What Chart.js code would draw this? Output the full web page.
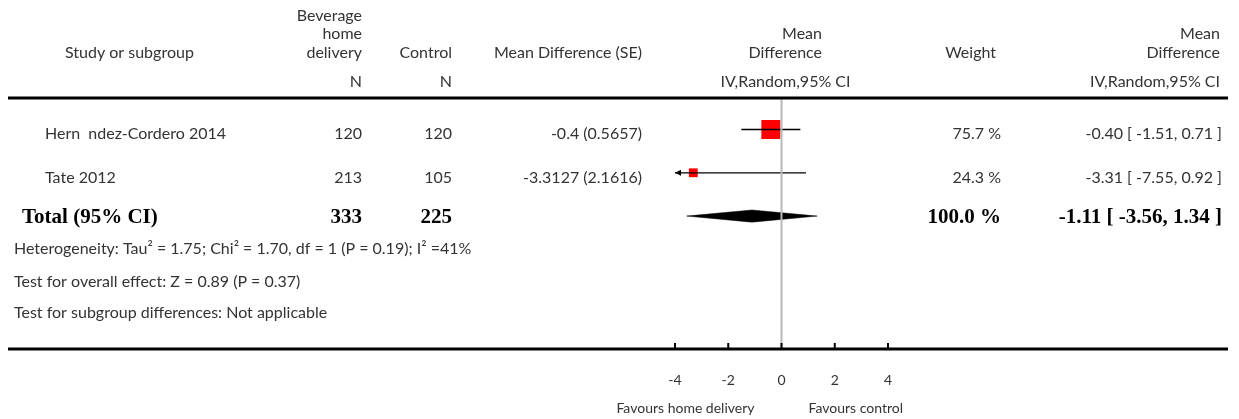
<!DOCTYPE html>
<html>
<head>
<meta charset="utf-8">
<script src="https://cdn.jsdelivr.net/npm/chart.js@4"></script>
<style>
  html, body { margin: 0; padding: 0; background: #fff; }
  #forest { display: block; }
</style>
</head>
<body>
<canvas id="forest" width="1239" height="419"></canvas>
<script>
// study level data
const studyNames = ["Hern  ndez-Cordero 2014", "Tate 2012"];
const nDelivery = [120, 213];
const nControl = [120, 105];
const meanDiff = [-0.4, -3.3127];
const stdErr = [0.5657, 2.1616];
const weights = [75.7, 24.3];
const ciLow = [-1.51, -7.55];
const ciHigh = [0.71, 0.92];

// pooled result
const totalN = [333, 225];
const pooledMD = [-1.11];
const pooledLow = [-3.56];
const pooledHigh = [1.34];
const pooledWeight = [100.0];

const xTicks = [-4, -2, 0, 2, 4];
const xMin = -4;
const xMax = 4;

const heterogeneity = "Heterogeneity: Tau\u00B2 = 1.75; Chi\u00B2 = 1.70, df = 1 (P = 0.19); I\u00B2 =41%";
const overallEffect = "Test for overall effect: Z = 0.89 (P = 0.37)";
const subgroupDiff = "Test for subgroup differences: Not applicable";

const SANS = "Lato, 'Open Sans', sans-serif";
const SERIF = "'Liberation Serif', 'DejaVu Serif', serif";
const TEXT = "#333";

function fmt(v) {
  return v.toFixed(2);
}

function ciText(m, lo, hi) {
  return fmt(m) + " [ " + fmt(lo) + ", " + fmt(hi) + " ]";
}

function squareRadius(w) {
  // side in px grows with weight, rect radius = side / sqrt(2)
  const side = 4 + 15 * w / 75.7;
  return side / Math.SQRT2;
}

const totalRow = studyNames.length;
const diamondHalf = 0.14;

function returnDatasets() {
  const sets = [];
  studyNames.forEach(function (name, i) {
    sets.push({
      type: "line",
      data: [{ x: ciLow[i], y: i }, { x: ciHigh[i], y: i }],
      borderColor: "#000",
      borderWidth: 1.3,
      pointRadius: 0,
      showLine: true,
    });
  });
  sets.push({
    data: meanDiff.map(function (m, i) { return { x: m, y: i }; }),
    pointStyle: "rect",
    pointRadius: weights.map(squareRadius),
    backgroundColor: "#ff0000",
    borderWidth: 0,
  });
  sets.push({
    data: meanDiff.map(function (m, i) { return { x: m, y: i }; }),
    pointStyle: "line",
    rotation: 90,
    pointRadius: 3,
    borderColor: "#000",
    borderWidth: 1,
  });
  sets.push({
    type: "line",
    data: [
      { x: pooledLow[0], y: totalRow },
      { x: pooledMD[0], y: totalRow - diamondHalf },
      { x: pooledHigh[0], y: totalRow },
      { x: pooledMD[0], y: totalRow + diamondHalf },
      { x: pooledLow[0], y: totalRow },
    ],
    borderColor: "#000",
    borderWidth: 0.5,
    backgroundColor: "#000",
    fill: "shape",
    pointRadius: 0,
    showLine: true,
  });
  return sets;
}

function txt(ctx, s, x, y, align, font, color) {
  ctx.font = font || "16px " + SANS;
  ctx.textAlign = align || "left";
  ctx.textBaseline = "alphabetic";
  ctx.fillStyle = color || TEXT;
  ctx.fillText(s, x, y);
}

const forestText = {
  id: "forestText",
  afterDatasetsDraw(chart) {
    const ctx = chart.ctx;
    const xs = chart.scales.x;
    const ys = chart.scales.y;
    const area = chart.chartArea;
    const zero = xs.getPixelForValue(0);
    ctx.save();

    // line of no effect
    ctx.strokeStyle = "#b8b8b8";
    ctx.lineWidth = 2;
    ctx.beginPath();
    ctx.moveTo(zero, area.top);
    ctx.lineTo(zero, area.bottom);
    ctx.stroke();

    // arrows for clipped intervals
    ctx.fillStyle = "#000";
    studyNames.forEach(function (name, i) {
      const y = ys.getPixelForValue(i);
      if (ciLow[i] < xMin) {
        const x = xs.getPixelForValue(xMin);
        ctx.beginPath();
        ctx.moveTo(x, y);
        ctx.lineTo(x + 6, y - 3);
        ctx.lineTo(x + 6, y + 3);
        ctx.closePath();
        ctx.fill();
      }
      if (ciHigh[i] > xMax) {
        const x = xs.getPixelForValue(xMax);
        ctx.beginPath();
        ctx.moveTo(x, y);
        ctx.lineTo(x - 6, y - 3);
        ctx.lineTo(x - 6, y + 3);
        ctx.closePath();
        ctx.fill();
      }
    });

    // horizontal rules
    ctx.strokeStyle = "#000";
    ctx.lineWidth = 3;
    ctx.beginPath();
    ctx.moveTo(8, area.top);
    ctx.lineTo(1228, area.top);
    ctx.moveTo(8, area.bottom);
    ctx.lineTo(1228, area.bottom);
    ctx.stroke();

    // ticks pointing up from the axis
    ctx.lineWidth = 2;
    ctx.beginPath();
    xTicks.forEach(function (t) {
      const x = xs.getPixelForValue(t);
      ctx.moveTo(x, area.bottom);
      ctx.lineTo(x, area.bottom - 6);
    });
    ctx.stroke();

    // header
    txt(ctx, "Study or subgroup", 65, 58);
    txt(ctx, "Beverage", 362, 21, "right");
    txt(ctx, "home", 362, 39, "right");
    txt(ctx, "delivery", 362, 58, "right");
    txt(ctx, "N", 362, 87, "right");
    txt(ctx, "Control", 452, 58, "right");
    txt(ctx, "N", 452, 87, "right");
    txt(ctx, "Mean Difference (SE)", 642, 58, "right");
    txt(ctx, "Mean", 822, 39, "right");
    txt(ctx, "Difference", 822, 58, "right");
    txt(ctx, "IV,Random,95% CI", (area.left + area.right) / 2 + 4, 87, "center");
    txt(ctx, "Weight", 996, 58, "right");
    txt(ctx, "Mean", 1220, 39, "right");
    txt(ctx, "Difference", 1220, 58, "right");
    txt(ctx, "IV,Random,95% CI", 1220, 87, "right");

    // study rows
    studyNames.forEach(function (name, i) {
      const y = ys.getPixelForValue(i) + 10;
      txt(ctx, name, 45, y);
      txt(ctx, String(nDelivery[i]), 362, y, "right");
      txt(ctx, String(nControl[i]), 452, y, "right");
      txt(ctx, meanDiff[i] + " (" + stdErr[i] + ")", 642, y, "right");
      txt(ctx, weights[i].toFixed(1) + " %", 1001, y, "right");
      txt(ctx, ciText(meanDiff[i], ciLow[i], ciHigh[i]), 1222, y, "right");
    });

    // total row
    const bold = "bold 21px " + SERIF;
    const ty = ys.getPixelForValue(totalRow) + 7;
    txt(ctx, "Total (95% CI)", 22, ty, "left", bold, "#000");
    txt(ctx, String(totalN[0]), 362, ty, "right", bold, "#000");
    txt(ctx, String(totalN[1]), 452, ty, "right", bold, "#000");
    txt(ctx, pooledWeight[0].toFixed(1) + " %", 1001, ty, "right", bold, "#000");
    txt(ctx, ciText(pooledMD[0], pooledLow[0], pooledHigh[0]), 1222, ty, "right", bold, "#000");

    // footnotes
    txt(ctx, heterogeneity, 14, 254);
    txt(ctx, overallEffect, 14, 287);
    txt(ctx, subgroupDiff, 14, 318);

    // favours labels
    txt(ctx, "Favours home delivery", zero - 27, 413, "right", "14px " + SANS);
    txt(ctx, "Favours control", zero + 27, 413, "left", "14px " + SANS);

    ctx.restore();
  },
};

function chart() {
  const ctx = document.getElementById("forest");
  new Chart(ctx, {
    type: "scatter",
    data: { datasets: returnDatasets() },
    options: {
      responsive: false,
      animation: false,
      devicePixelRatio: 1,
      layout: { padding: { left: 675, right: 351, top: 98, bottom: 0 } },
      plugins: { legend: { display: false }, tooltip: { enabled: false } },
      scales: {
        x: {
          type: "linear",
          min: xMin,
          max: xMax,
          afterBuildTicks: function (axis) {
            axis.ticks = xTicks.map(function (v) { return { value: v }; });
          },
          afterFit: function (axis) { axis.height = 70; },
          grid: { display: false, drawTicks: false },
          border: { display: false },
          ticks: { padding: 23, color: TEXT, font: { family: SANS, size: 14 } },
        },
        y: {
          type: "linear",
          display: false,
          reverse: true,
          min: -0.727,
          max: 5.07,
        },
      },
    },
    plugins: [forestText],
  });
}

chart();
</script>
</body>
</html>
